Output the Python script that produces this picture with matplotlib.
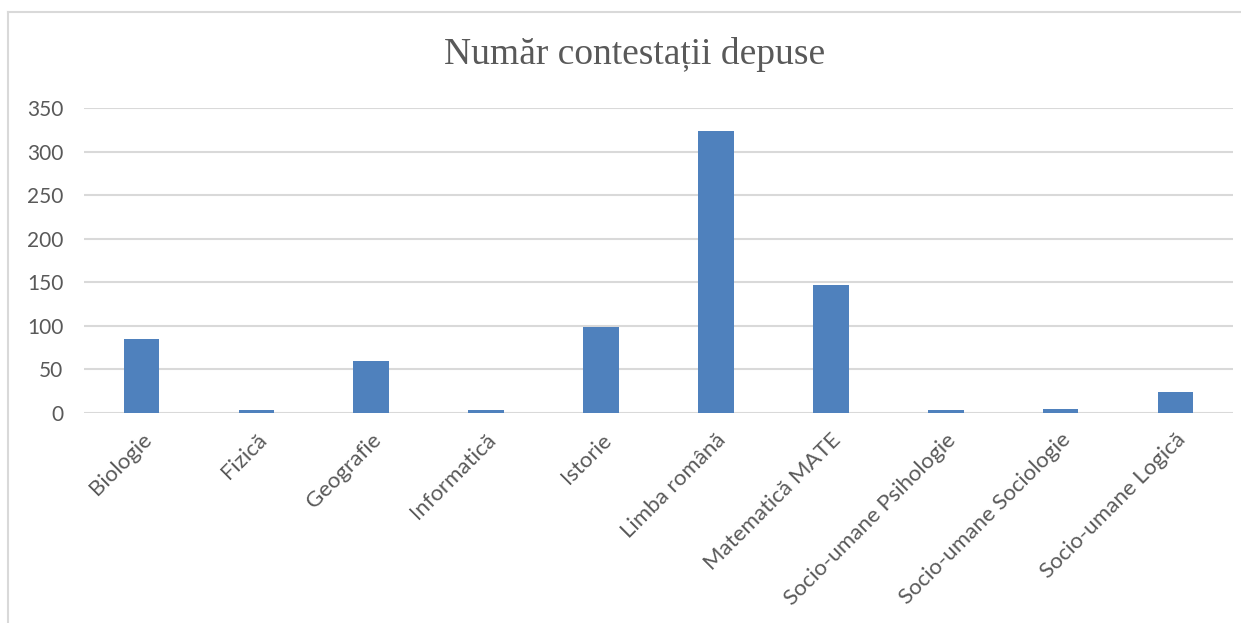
import matplotlib.pyplot as plt
from matplotlib.lines import Line2D

categories = ['Biologie', 'Fizică', 'Geografie', 'Informatică', 'Istorie',
              'Limba română', 'Matematică MATE', 'Socio-umane Psihologie',
              'Socio-umane Sociologie', 'Socio-umane Logică']
values = [85, 3, 60, 4, 99, 324, 147, 3, 5, 24]
yticks = [0, 50, 100, 150, 200, 250, 300, 350]

W, H = 1241, 623
fig = plt.figure(figsize=(W / 100, H / 100), dpi=100)
ax = fig.add_axes([84 / W, 1 - 413 / H, (1233 - 84) / W, (413 - 108) / H])

x = list(range(len(categories)))
ax.bar(x, values, width=0.31, color='#4f81bd', zorder=3)

ax.set_xlim(-0.5, len(categories) - 0.5)
ax.set_ylim(0, 350)
ax.set_yticks(yticks)
ax.set_xticks(x)
ax.set_xticklabels(categories, rotation=45, ha='right', rotation_mode='anchor',
                   fontsize=16, color='#595959', family='Lato')
for t in ax.get_yticklabels():
    t.set_fontsize(15)
    t.set_color('#595959')
    t.set_family('Lato')
ax.tick_params(axis='both', length=0)
ax.tick_params(axis='y', pad=15)
ax.tick_params(axis='x', pad=12)
ax.grid(axis='y', color='#d9d9d9', linewidth=1.5, zorder=0)
for s in ax.spines.values():
    s.set_visible(False)

fig.text(635 / W, 1 - 55 / H, 'Număr contestații depuse', ha='center', va='center',
         fontsize=27, color='#595959', family='Liberation Serif')

# outer chart border (partly cropped in the source)
fig.add_artist(Line2D([8 / W, 1], [1 - 12 / H, 1 - 12 / H], color='#d9d9d9', linewidth=1.5))
fig.add_artist(Line2D([8 / W, 8 / W], [0, 1 - 12 / H], color='#d9d9d9', linewidth=1.5))

fig.savefig('out.png', dpi=100)
